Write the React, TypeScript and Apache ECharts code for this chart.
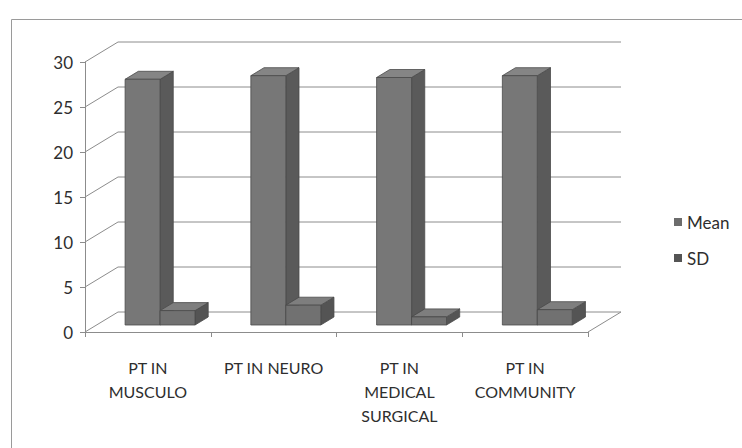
import React, { useEffect, useRef } from "react";
import * as echarts from "echarts";

const CATEGORIES = ["PT IN\nMUSCULO", "PT IN NEURO", "PT IN\nMEDICAL\nSURGICAL", "PT IN\nCOMMUNITY"];
const MEAN = [27.3, 27.7, 27.5, 27.7];
const SD = [1.6, 2.2, 0.9, 1.7];
const Y_TICKS = [0, 5, 10, 15, 20, 25, 30];

const DEPTH_DX = 33;
const DEPTH_DY = -20;
const BAR_D0 = 0.35;
const BAR_D1 = 0.75;
const BAR_START = 0.227;
const BAR_W = 0.278;

const FONT = "Lato, 'Open Sans', sans-serif";

function boxRender(slot: number, front: string, top: string, side: string) {
  return (params: any, api: any) => {
    const ci = api.value(0);
    const v = api.value(1);
    const base = api.coord([ci, 0]);
    const tp = api.coord([ci, v]);
    const bw = api.size([1, 0])[0];
    const x0 = base[0] - bw / 2 + bw * (BAR_START + slot * BAR_W) + DEPTH_DX * BAR_D0;
    const x1 = x0 + bw * BAR_W;
    const yb = base[1] + DEPTH_DY * BAR_D0;
    const yt = tp[1] + DEPTH_DY * BAR_D0;
    const ddx = DEPTH_DX * (BAR_D1 - BAR_D0);
    const ddy = DEPTH_DY * (BAR_D1 - BAR_D0);
    const stroke = { stroke: "#4a4a4a", lineWidth: 0.8 };
    return {
      type: "group",
      children: [
        {
          type: "polygon",
          shape: { points: [[x1, yt], [x1 + ddx, yt + ddy], [x1 + ddx, yb + ddy], [x1, yb]] },
          style: { fill: side, ...stroke },
        },
        {
          type: "polygon",
          shape: { points: [[x0, yt], [x1, yt], [x1 + ddx, yt + ddy], [x0 + ddx, yt + ddy]] },
          style: { fill: top, ...stroke },
        },
        {
          type: "rect",
          shape: { x: x0, y: yt, width: x1 - x0, height: yb - yt },
          style: { fill: front, ...stroke },
        },
      ],
    };
  };
}

function wallRender(params: any, api: any) {
  const v = api.value(1);
  const p = api.coord([0, v]);
  const bw = api.size([1, 0])[0];
  const left = p[0] - bw / 2;
  const right = api.coord([CATEGORIES.length - 1, v])[0] + bw / 2;
  const y = p[1];
  const ls = { stroke: "#8c8c8c", lineWidth: 1 };
  const children: any[] = [
    { type: "line", shape: { x1: left, y1: y, x2: left + DEPTH_DX, y2: y + DEPTH_DY }, style: ls },
    { type: "line", shape: { x1: left + DEPTH_DX, y1: y + DEPTH_DY, x2: right + DEPTH_DX, y2: y + DEPTH_DY }, style: ls },
  ];
  if (v === 0) {
    children.push({ type: "line", shape: { x1: right, y1: y, x2: right + DEPTH_DX, y2: y + DEPTH_DY }, style: ls });
  }
  return { type: "group", children };
}

export default function App() {
  const ref = useRef<HTMLDivElement>(null);
  useEffect(() => {
    if (!ref.current) return;
    const chart = echarts.init(ref.current, undefined, { renderer: "svg" });
    chart.setOption({
      animation: false,
      backgroundColor: "#ffffff",
      grid: { left: 85, right: 154, top: 62, bottom: 116 },
      graphic: [
        {
          type: "rect",
          left: 9,
          top: 17,
          shape: { width: 800, height: 500 },
          style: { fill: "none", stroke: "#9a9a9a", lineWidth: 1 },
          silent: true,
        },
      ],
      legend: {
        orient: "vertical",
        left: 669,
        top: 207,
        icon: "rect",
        itemWidth: 8,
        itemHeight: 8,
        itemGap: 16,
        data: ["Mean", "SD"],
        textStyle: { fontFamily: FONT, fontSize: 17, color: "#2e2e2e", lineHeight: 20 },
      },
      xAxis: {
        type: "category",
        data: CATEGORIES,
        boundaryGap: true,
        axisLine: { show: true, lineStyle: { color: "#8c8c8c" } },
        axisTick: { show: true, length: 5, lineStyle: { color: "#8c8c8c" } },
        axisLabel: {
          interval: 0,
          margin: 23,
          fontFamily: FONT,
          fontSize: 16,
          lineHeight: 24,
          color: "#2e2e2e",
          align: "center",
        },
        splitLine: { show: false },
      },
      yAxis: {
        type: "value",
        min: 0,
        max: 30,
        interval: 5,
        axisLine: { show: true, lineStyle: { color: "#8c8c8c" } },
        axisTick: { show: true, length: 5, lineStyle: { color: "#8c8c8c" } },
        axisLabel: { margin: 12, fontFamily: FONT, fontSize: 17, color: "#2e2e2e" },
        splitLine: { show: false },
      },
      series: [
        {
          type: "custom",
          name: "wall",
          renderItem: wallRender,
          data: Y_TICKS.map((t) => [0, t]),
          clip: false,
          silent: true,
          z: 1,
        },
        {
          type: "custom",
          name: "Mean",
          renderItem: boxRender(0, "#777777", "#858585", "#5a5a5a"),
          data: MEAN.map((v, i) => [i, v]),
          itemStyle: { color: "#6c6c6c" },
          clip: false,
          z: 2,
        },
        {
          type: "custom",
          name: "SD",
          renderItem: boxRender(1, "#717171", "#7e7e7e", "#545454"),
          data: SD.map((v, i) => [i, v]),
          itemStyle: { color: "#545454" },
          clip: false,
          z: 3,
        },
      ],
    });
    return () => chart.dispose();
  }, []);
  return (
    <div
      ref={ref}
      style={{ position: "fixed", left: 0, top: 0, width: 742, height: 448 }}
    />
  );
}
